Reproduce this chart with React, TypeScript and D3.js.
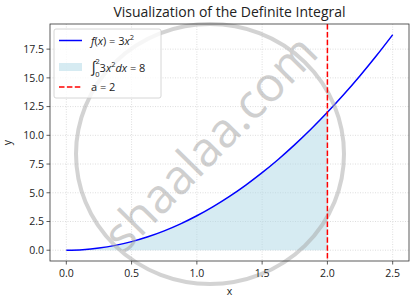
import React from "react";
import * as d3 from "d3";

const xValues = [0, 0.125, 0.25, 0.375, 0.5, 0.625, 0.75, 0.875, 1, 1.125, 1.25, 1.375, 1.5, 1.625, 1.75, 1.875, 2, 2.125, 2.25, 2.375, 2.5];
const yValues = [0, 0.047, 0.1875, 0.422, 0.75, 1.172, 1.6875, 2.297, 3, 3.797, 4.6875, 5.672, 6.75, 7.922, 9.1875, 10.547, 12, 13.547, 15.1875, 16.922, 18.75];
const upperLimit = 2;
const xTicks = [0, 0.5, 1, 1.5, 2, 2.5];
const yTicks = [0, 2.5, 5, 7.5, 10, 12.5, 15, 17.5];
const title = "Visualization of the Definite Integral";

const W = 419, H = 300;
const M = { left: 50, right: 10, top: 24, bottom: 39 };
const FONT = "'Open Sans', 'DejaVu Sans', sans-serif";

export default function App() {
  const pts = xValues.map((x, i) => ({ x, y: yValues[i] }));
  const x = d3.scaleLinear().domain([-0.125, 2.625]).range([M.left, W - M.right]);
  const y = d3.scaleLinear().domain([-0.9375, 19.6875]).range([H - M.bottom, M.top]);
  const line = d3.line<any>().x(d => x(d.x)).y(d => y(d.y)).curve(d3.curveMonotoneX);
  const area = d3.area<any>().x(d => x(d.x)).y0(y(0)).y1(d => y(d.y)).curve(d3.curveMonotoneX);
  const shaded = pts.filter(p => p.x <= upperLimit);
  const fmt = d3.format(".1f");
  const x0 = M.left, x1 = W - M.right, y0 = M.top, y1 = H - M.bottom;
  const lx = 54, ly = 29;
  return (
    <svg width={W} height={H} style={{ position: "absolute", left: 0, top: 0, background: "#fff" }} fontFamily={FONT}>
      <rect width={W} height={H} fill="#fff" />
      {/* grid */}
      {xTicks.map(t => (
        <line key={"gx" + t} x1={x(t)} x2={x(t)} y1={y0} y2={y1} stroke="#d0d0d0" strokeWidth={0.7} strokeDasharray="1,1.5" />
      ))}
      {yTicks.map(t => (
        <line key={"gy" + t} x1={x0} x2={x1} y1={y(t)} y2={y(t)} stroke="#d0d0d0" strokeWidth={0.7} strokeDasharray="1,1.5" />
      ))}
      <path d={area(shaded) || ""} fill="#add8e6" fillOpacity={0.5} />
      <path d={line(pts) || ""} fill="none" stroke="#0000ff" strokeWidth={1.5} />
      {/* watermark */}
      <g opacity={0.5} pointerEvents="none">
        <ellipse cx={210} cy={154} rx={134} ry={130} fill="none" stroke="#a8a8a8" strokeWidth={4} />
        <text transform="translate(213,146) rotate(-45.5)" textAnchor="middle" dominantBaseline="middle" fontSize={48} fill="#a0a0a0" fontFamily="'Open Sans', sans-serif">shaalaa.com</text>
      </g>
      <line x1={x(upperLimit)} x2={x(upperLimit)} y1={y0} y2={y1} stroke="#ff0000" strokeWidth={1.5} strokeDasharray="5.5,2.4" />
      {/* axes frame */}
      <rect x={x0} y={y0} width={x1 - x0} height={y1 - y0} fill="none" stroke="#333" strokeWidth={0.8} />
      {xTicks.map(t => (
        <g key={"tx" + t}>
          <line x1={x(t)} x2={x(t)} y1={y1} y2={y1 + 3.5} stroke="#333" strokeWidth={0.8} />
          <text x={x(t)} y={y1 + 15.5} textAnchor="middle" fontSize={10.5} fill="#222">{fmt(t)}</text>
        </g>
      ))}
      {yTicks.map(t => (
        <g key={"ty" + t}>
          <line x1={x0 - 3.5} x2={x0} y1={y(t)} y2={y(t)} stroke="#333" strokeWidth={0.8} />
          <text x={x0 - 6} y={y(t) + 3.8} textAnchor="end" fontSize={10.5} fill="#222">{fmt(t)}</text>
        </g>
      ))}
      <text x={(x0 + x1) / 2} y={295} textAnchor="middle" fontSize={10.5} fill="#222">x</text>
      <text transform={`translate(11,${(y0 + y1) / 2}) rotate(-90)`} textAnchor="middle" fontSize={10.5} fill="#222">y</text>
      <text x={(x0 + x1) / 2} y={17} textAnchor="middle" fontSize={14} fill="#222">{title}</text>
      {/* legend */}
      <rect x={lx} y={ly} width={107} height={69} rx={2} fill="#fff" fillOpacity={0.8} stroke="#ccc" strokeWidth={0.8} />
      <line x1={lx + 5} x2={lx + 28} y1={ly + 11.5} y2={ly + 11.5} stroke="#0000ff" strokeWidth={1.5} />
      <text x={lx + 37} y={ly + 15.5} fontSize={11} fill="#222">
        <tspan fontStyle="italic">f</tspan>(<tspan fontStyle="italic">x</tspan>) = 3<tspan fontStyle="italic">x</tspan><tspan fontSize={7.5} dy={-4.5}>2</tspan>
      </text>
      <rect x={lx + 5} y={ly + 34} width={23} height={8} fill="#add8e6" fillOpacity={0.5} />
      <text x={lx + 37} y={ly + 42.5} fontSize={11} fill="#222">
        <tspan fontSize={15} fontStyle="italic">∫</tspan>
        <tspan fontSize={7.5} dx={-1} dy={-8}>2</tspan>
        <tspan fontSize={7.5} dx={-4.5} dy={13}>0</tspan>
        <tspan dy={-5}>3</tspan><tspan fontStyle="italic">x</tspan><tspan fontSize={7.5} dy={-4.5}>2</tspan>
        <tspan dy={4.5} fontStyle="italic">dx</tspan><tspan> = 8</tspan>
      </text>
      <line x1={lx + 5} x2={lx + 28} y1={ly + 58} y2={ly + 58} stroke="#ff0000" strokeWidth={1.5} strokeDasharray="5.5,2.4" />
      <text x={lx + 37} y={ly + 62} fontSize={11} fill="#222">a = 2</text>
    </svg>
  );
}
